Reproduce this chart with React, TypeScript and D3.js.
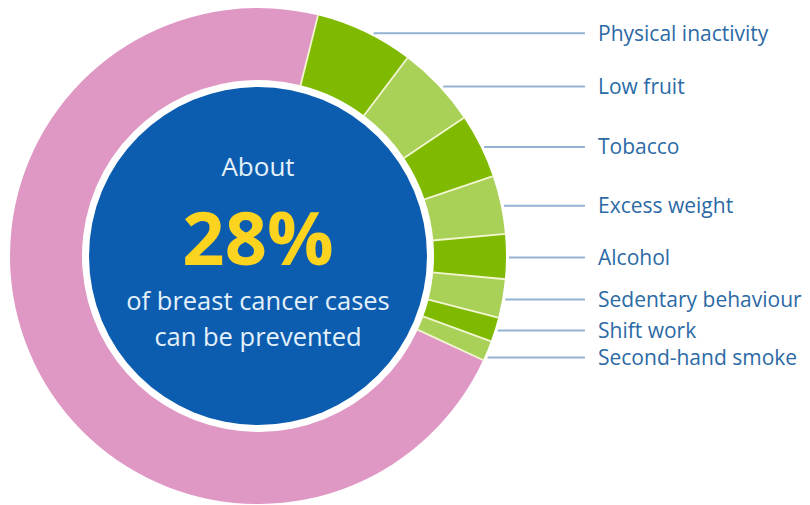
import React, { useEffect, useRef } from "react";
import * as d3 from "d3";

// risk factors (share of all breast cancer cases, %)
const factors = [
  "Physical inactivity",
  "Low fruit",
  "Tobacco",
  "Excess weight",
  "Alcohol",
  "Sedentary behaviour",
  "Shift work",
  "Second-hand smoke",
];
const shares = [6.4, 5.3, 4.2, 3.8, 2.9, 2.5, 1.6, 1.3];
const remainder = 72;
const headline = ["About", "28%", "of breast cancer cases", "can be prevented"];

const W = 810;
const H = 505;

const App = () => {
  const svgRef = useRef<SVGSVGElement | null>(null);

  useEffect(() => {
    const svg = d3.select(svgRef.current);
    svg.selectAll("*").remove();

    const cx = 258;
    const cy = 256;
    const outerR = 248;
    const innerR = 176;
    const blueR = 169;

    const rows = factors.map((name, i) => ({ name, value: shares[i], risk: true }));
    rows.push({ name: "Other", value: remainder, risk: false });

    const pie = d3
      .pie<any>()
      .sort(null)
      .value((d) => d.value)
      .startAngle((14 * Math.PI) / 180)
      .endAngle((374 * Math.PI) / 180);
    const arcs = pie(rows);

    const arc = d3.arc<any>().innerRadius(innerR).outerRadius(outerR);

    const g = svg.append("g").attr("transform", `translate(${cx},${cy})`);

    g.selectAll("path.seg")
      .data(arcs)
      .enter()
      .append("path")
      .attr("class", "seg")
      .attr("d", arc)
      .attr("fill", (d, i) => (!d.data.risk ? "#df97c4" : i % 2 === 0 ? "#7fba00" : "#a9d158"));

    // thin pale separators between segments
    g.selectAll("line.sep")
      .data(arcs)
      .enter()
      .append("line")
      .attr("class", "sep")
      .attr("x1", (d) => Math.sin(d.startAngle) * (innerR - 1))
      .attr("y1", (d) => -Math.cos(d.startAngle) * (innerR - 1))
      .attr("x2", (d) => Math.sin(d.startAngle) * (outerR + 1))
      .attr("y2", (d) => -Math.cos(d.startAngle) * (outerR + 1))
      .attr("stroke", "#f2f6d2")
      .attr("stroke-width", 1.8);

    // blue centre
    g.append("circle").attr("r", blueR).attr("fill", "#0c5daf");

    // labels + leader lines, pushed down so they don't collide
    const minGap = 27;
    let prevY = -Infinity;
    const labels = arcs
      .filter((d) => d.data.risk)
      .map((d) => {
        const a = (d.startAngle + d.endAngle) / 2;
        let y = -Math.cos(a) * outerR + 1;
        if (y < prevY + minGap) y = prevY + minGap;
        prevY = y;
        return { name: d.data.name, y };
      });

    const lineEnd = 585 - cx;
    labels.forEach((l) => {
      const r0 = outerR + 3;
      const x0 = Math.abs(l.y) < r0 ? Math.sqrt(r0 * r0 - l.y * l.y) : 0;
      g.append("line")
        .attr("x1", x0)
        .attr("x2", lineEnd)
        .attr("y1", l.y)
        .attr("y2", l.y)
        .attr("stroke", "#93b3d2")
        .attr("stroke-width", 2);
      g.append("text")
        .attr("x", 598 - cx)
        .attr("y", l.y)
        .attr("dy", "0.35em")
        .attr("fill", "#2c6aa5")
        .style("font-family", "'Open Sans', sans-serif")
        .style("font-size", "21px")
        .text(l.name);
    });

    // headline text
    const txt = g
      .append("g")
      .attr("text-anchor", "middle")
      .style("font-family", "'Open Sans', sans-serif");
    txt.append("text").attr("y", -80).attr("fill", "#e4f1fb").style("font-size", "26px").text(headline[0]);
    txt
      .append("text")
      .attr("y", 9)
      .attr("fill", "#fcd31f")
      .style("font-size", "74px")
      .style("font-weight", "bold")
      .text(headline[1]);
    txt.append("text").attr("y", 54).attr("fill", "#e4f1fb").style("font-size", "25.5px").text(headline[2]);
    txt.append("text").attr("y", 90).attr("fill", "#e4f1fb").style("font-size", "25.5px").text(headline[3]);
  }, []);

  return (
    <svg
      ref={svgRef}
      width={W}
      height={H}
      style={{ position: "absolute", left: 0, top: 0, background: "#fff" }}
    />
  );
};

export default App;
